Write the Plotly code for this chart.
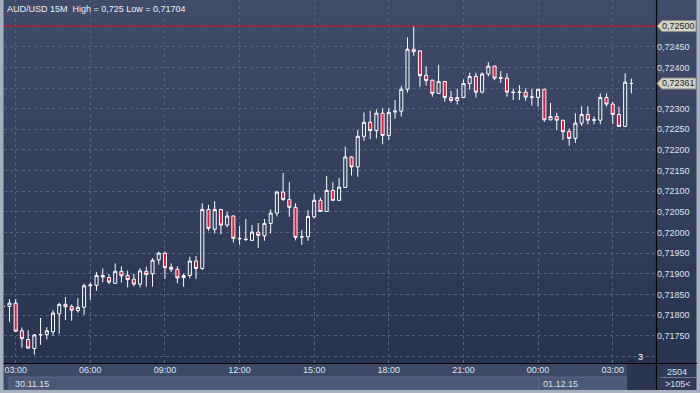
import plotly.graph_objects as go
import pandas as pd

# ---------------- data (AUD/USD, 15-minute bars) ----------------
start_time = "2015-11-30 02:30"
bar_freq = "15min"

open_ = [0.71821, 0.71821, 0.71829, 0.71762, 0.71741, 0.71719, 0.71752, 0.71753, 0.71760, 0.71803,
         0.71826, 0.71821, 0.71811, 0.71819, 0.71871, 0.71872, 0.71896, 0.71891, 0.71877, 0.71906,
         0.71896, 0.71887, 0.71875, 0.71906, 0.71900, 0.71934, 0.71950, 0.71916, 0.71911, 0.71891,
         0.71896, 0.71931, 0.71913, 0.72056, 0.72008, 0.72056, 0.72018, 0.72040, 0.71986, 0.71984,
         0.71981, 0.72001, 0.71992, 0.72022, 0.72047, 0.72098, 0.72080, 0.72061, 0.71989, 0.71990,
         0.72038, 0.72078, 0.72051, 0.72102, 0.72078, 0.72109, 0.72183, 0.72159, 0.72233, 0.72267,
         0.72247, 0.72289, 0.72235, 0.72292, 0.72294, 0.72347, 0.72444, 0.72440, 0.72381, 0.72369,
         0.72337, 0.72366, 0.72327, 0.72320, 0.72327, 0.72361, 0.72378, 0.72340, 0.72384, 0.72403,
         0.72375, 0.72374, 0.72340, 0.72339, 0.72340, 0.72328, 0.72327, 0.72347, 0.72273, 0.72281,
         0.72272, 0.72245, 0.72228, 0.72265, 0.72286, 0.72272, 0.72272, 0.72327, 0.72311, 0.72286,
         0.72257, 0.72361]
high = [0.71823, 0.71839, 0.71839, 0.71770, 0.71764, 0.71754, 0.71793, 0.71771, 0.71812, 0.71830,
        0.71844, 0.71826, 0.71841, 0.71876, 0.71879, 0.71904, 0.71913, 0.71899, 0.71925, 0.71918,
        0.71908, 0.71900, 0.71914, 0.71917, 0.71938, 0.71954, 0.71954, 0.71925, 0.71918, 0.71901,
        0.71941, 0.71943, 0.72071, 0.72067, 0.72076, 0.72057, 0.72050, 0.72042, 0.72016, 0.72033,
        0.72018, 0.72023, 0.72033, 0.72056, 0.72101, 0.72144, 0.72122, 0.72071, 0.72006, 0.72055,
        0.72093, 0.72084, 0.72137, 0.72122, 0.72132, 0.72208, 0.72185, 0.72248, 0.72291, 0.72295,
        0.72298, 0.72301, 0.72302, 0.72321, 0.72355, 0.72473, 0.72500, 0.72441, 0.72403, 0.72370,
        0.72406, 0.72367, 0.72343, 0.72348, 0.72371, 0.72387, 0.72387, 0.72388, 0.72413, 0.72404,
        0.72391, 0.72386, 0.72348, 0.72357, 0.72349, 0.72348, 0.72348, 0.72348, 0.72314, 0.72290,
        0.72273, 0.72252, 0.72289, 0.72306, 0.72306, 0.72281, 0.72337, 0.72337, 0.72317, 0.72305,
        0.72386, 0.72373]
low = [0.71819, 0.71784, 0.71760, 0.71721, 0.71719, 0.71704, 0.71728, 0.71741, 0.71750, 0.71755,
       0.71788, 0.71786, 0.71806, 0.71801, 0.71837, 0.71859, 0.71879, 0.71875, 0.71876, 0.71879,
       0.71867, 0.71870, 0.71867, 0.71869, 0.71869, 0.71922, 0.71888, 0.71904, 0.71877, 0.71869,
       0.71889, 0.71888, 0.71909, 0.72004, 0.71998, 0.71996, 0.72013, 0.71976, 0.71970, 0.71979,
       0.71981, 0.71963, 0.71980, 0.71998, 0.72039, 0.72076, 0.72038, 0.71981, 0.71970, 0.71980,
       0.72034, 0.72050, 0.72050, 0.72078, 0.72077, 0.72108, 0.72138, 0.72135, 0.72222, 0.72226,
       0.72228, 0.72214, 0.72224, 0.72276, 0.72281, 0.72339, 0.72428, 0.72353, 0.72356, 0.72329,
       0.72336, 0.72317, 0.72315, 0.72310, 0.72326, 0.72346, 0.72327, 0.72337, 0.72378, 0.72369,
       0.72362, 0.72329, 0.72321, 0.72321, 0.72319, 0.72307, 0.72305, 0.72268, 0.72272, 0.72248,
       0.72224, 0.72210, 0.72217, 0.72258, 0.72262, 0.72262, 0.72262, 0.72305, 0.72263, 0.72257,
       0.72256, 0.72337]
close = [0.71821, 0.71829, 0.71761, 0.71743, 0.71720, 0.71752, 0.71753, 0.71762, 0.71805, 0.71826,
         0.71820, 0.71812, 0.71819, 0.71871, 0.71873, 0.71896, 0.71892, 0.71880, 0.71906, 0.71895,
         0.71886, 0.71875, 0.71907, 0.71898, 0.71933, 0.71950, 0.71915, 0.71911, 0.71890, 0.71896,
         0.71931, 0.71913, 0.72056, 0.72010, 0.72056, 0.72018, 0.72040, 0.71986, 0.71985, 0.71983,
         0.72001, 0.71993, 0.72022, 0.72047, 0.72098, 0.72080, 0.72061, 0.71988, 0.71990, 0.72039,
         0.72078, 0.72051, 0.72102, 0.72078, 0.72110, 0.72183, 0.72159, 0.72233, 0.72267, 0.72247,
         0.72289, 0.72235, 0.72291, 0.72294, 0.72347, 0.72444, 0.72438, 0.72380, 0.72368, 0.72337,
         0.72366, 0.72327, 0.72320, 0.72327, 0.72361, 0.72378, 0.72340, 0.72384, 0.72403, 0.72374,
         0.72374, 0.72340, 0.72339, 0.72340, 0.72328, 0.72328, 0.72347, 0.72273, 0.72281, 0.72272,
         0.72244, 0.72228, 0.72265, 0.72286, 0.72272, 0.72273, 0.72327, 0.72311, 0.72286, 0.72257,
         0.72364, 0.72361]

times = pd.date_range(start_time, periods=len(close), freq=bar_freq)

title_text = "AUD/USD 15M  High = 0,725 Low = 0,71704"
high_level = 0.72500
last_price = 0.72361
price_ticks = [0.71700, 0.71750, 0.71800, 0.71850, 0.71900, 0.71950, 0.72000, 0.72050, 0.72100,
               0.72150, 0.72200, 0.72250, 0.72300, 0.72350, 0.72400, 0.72450, 0.72500]
# labels hidden where the chart covers them (bottom edge, price badges)
hidden_ticks = [0.71700, 0.72350, 0.72500]
price_tick_text = ["" if v in hidden_ticks else f"{v:.5f}".replace(".", ",") for v in price_ticks]
date_labels = ["30.11.15", "01.12.15"]
corner_labels = ["2504", ">105<"]
marker_count = "3"

# ---------------- layout geometry helpers ----------------
W, H = 700, 393
ML, MR, MT, MB = 4, 44, 0, 30
PW, PH = W - ML - MR, H - MT - MB


def xp(px):
    return (px - ML) / PW


def yp(py):
    return (H - MB - py) / PH


FONT = "Liberation Sans, Arial, sans-serif"
TXT = "#dde3ee"
GRID = "#56637f"

fig = go.Figure()
fig.add_trace(go.Candlestick(
    x=times, open=open_, high=high, low=low, close=close,
    increasing=dict(line=dict(color="#ffffff", width=1), fillcolor="rgba(0,0,0,0)"),
    decreasing=dict(line=dict(color="#ffffff", width=1), fillcolor="#e6163d"),
    whiskerwidth=0, hoverinfo="skip", showlegend=False,
))

shapes = []
# background gradient bands
top_c = (63, 75, 105)
bot_c = (41, 52, 80)
N = 22
for k in range(N):
    t = k / (N - 1)
    col = tuple(round(top_c[j] + (bot_c[j] - top_c[j]) * t) for j in range(3))
    y0 = 363 * k / N
    y1 = 363 * (k + 1) / N
    shapes.append(dict(type="rect", xref="paper", yref="paper", x0=xp(0), x1=xp(700),
                       y0=yp(y1 + 0.5), y1=yp(y0), fillcolor="rgb(%d,%d,%d)" % col,
                       line=dict(width=0), layer="below"))
# time row
shapes.append(dict(type="rect", xref="paper", yref="paper", x0=xp(0), x1=xp(700),
                   y0=yp(377), y1=yp(363), fillcolor="#3d4966", line=dict(width=0), layer="below"))
# date row segments
shapes.append(dict(type="rect", xref="paper", yref="paper", x0=xp(0), x1=xp(700),
                   y0=yp(391), y1=yp(377), fillcolor="#3d4966", line=dict(width=0), layer="below"))
shapes.append(dict(type="rect", xref="paper", yref="paper", x0=xp(9), x1=xp(538.5),
                   y0=yp(390), y1=yp(377), fillcolor="#4b5877", line=dict(color="#5f6b88", width=1),
                   layer="below"))
shapes.append(dict(type="rect", xref="paper", yref="paper", x0=xp(538.5), x1=xp(627),
                   y0=yp(390), y1=yp(377), fillcolor="#4b5877", line=dict(color="#5f6b88", width=1),
                   layer="below"))
# dark box at right of time axis
shapes.append(dict(type="rect", xref="paper", yref="paper", x0=xp(627), x1=xp(656),
                   y0=yp(390), y1=yp(363), fillcolor="#2b3551", line=dict(width=0), layer="below"))
# bottom-right corner box
shapes.append(dict(type="rect", xref="paper", yref="paper", x0=xp(656), x1=xp(700),
                   y0=yp(390), y1=yp(363), fillcolor="#2f3a57", line=dict(width=0), layer="below"))
shapes.append(dict(type="line", xref="paper", yref="paper", x0=xp(660), x1=xp(696),
                   y0=yp(377.5), y1=yp(377.5), line=dict(color="#6b7794", width=1), layer="below"))
# outer light border
for (a, b, c, d) in [(0, 3.5, 0, 393), (0, 700, 390, 393), (696.5, 700, 0, 393)]:
    shapes.append(dict(type="rect", xref="paper", yref="paper", x0=xp(a), x1=xp(b),
                       y0=yp(d), y1=yp(c), fillcolor="#a9b0bd", line=dict(width=0), layer="above"))
# black axis lines
shapes.append(dict(type="line", xref="paper", yref="paper", x0=xp(656.5), x1=xp(656.5),
                   y0=yp(390), y1=yp(0), line=dict(color="#000000", width=1.2), layer="above"))
shapes.append(dict(type="line", xref="paper", yref="paper", x0=xp(3.5), x1=xp(697),
                   y0=yp(363.5), y1=yp(363.5), line=dict(color="#000000", width=1.2), layer="above"))
# high level red line
shapes.append(dict(type="line", xref="paper", yref="y", x0=0, x1=1, y0=high_level, y1=high_level,
                   line=dict(color="#d8101c", width=1), layer="above"))
# price badges
for v in (high_level, last_price):
    shapes.append(dict(type="path", xref="paper", yref="y", xsizemode="pixel", ysizemode="pixel",
                       xanchor=1, yanchor=v,
                       path="M 1,0 L 6,-5.5 L 40,-5.5 L 40,5.5 L 6,5.5 Z",
                       fillcolor="#d2d3c6", line=dict(color="#8e8f86", width=1), layer="above"))
# small triangle marker near bottom right
shapes.append(dict(type="path", xref="paper", yref="paper",
                   path="M %f,%f L %f,%f L %f,%f Z" % (xp(627), yp(362), xp(631.5), yp(357.5),
                                                       xp(636), yp(362)),
                   fillcolor="#222a42", line=dict(width=0), layer="above"))

annotations = [
    dict(text=title_text, xref="paper", yref="paper", x=xp(5), y=yp(2), xanchor="left",
         yanchor="top", showarrow=False, font=dict(family=FONT, size=9, color="#eef1f6")),
    dict(text=date_labels[0], xref="paper", yref="paper", x=xp(13), y=yp(383.5), xanchor="left",
         yanchor="middle", showarrow=False, font=dict(family=FONT, size=9, color=TXT)),
    dict(text=date_labels[1], xref="paper", yref="paper", x=xp(541), y=yp(383.5), xanchor="left",
         yanchor="middle", showarrow=False, font=dict(family=FONT, size=9, color=TXT)),
    dict(text=corner_labels[0], xref="paper", yref="paper", x=xp(677), y=yp(371.5), xanchor="center",
         yanchor="middle", showarrow=False, font=dict(family=FONT, size=9, color=TXT)),
    dict(text=corner_labels[1], xref="paper", yref="paper", x=xp(677.5), y=yp(383.5), xanchor="center",
         yanchor="middle", showarrow=False, font=dict(family=FONT, size=9, color=TXT)),
    dict(text=marker_count, xref="paper", yref="paper", x=xp(640), y=yp(357), xanchor="center",
         yanchor="middle", showarrow=False, font=dict(family=FONT, size=9, color="#ffffff")),
]
for v in (high_level, last_price):
    annotations.append(dict(text=f"{v:.5f}".replace(".", ","), xref="paper", yref="y", x=1, y=v,
                            xanchor="left", yanchor="middle", xshift=4, showarrow=False,
                            font=dict(family=FONT, size=9, color="#1e1e1e")))

fig.update_layout(
    width=W, height=H,
    margin=dict(l=ML, r=MR, t=MT, b=MB, pad=0),
    paper_bgcolor="#2f3a57",
    plot_bgcolor="rgba(0,0,0,0)",
    shapes=shapes,
    annotations=annotations,
    showlegend=False,
    hovermode=False,
    font=dict(family=FONT, size=9, color=TXT),
    xaxis=dict(
        type="date",
        range=["2015-11-30 02:31:47", "2015-12-01 04:44:24"],
        tick0="2015-11-30 00:00", dtick=3 * 3600 * 1000, tickformat="%H:%M",
        showgrid=True, gridcolor=GRID, griddash="3px,3px", gridwidth=1,
        zeroline=False, showline=False, ticks="", ticklen=0,
        tickfont=dict(family=FONT, size=9, color=TXT),
        rangeslider=dict(visible=False), fixedrange=True,
    ),
    yaxis=dict(
        side="right",
        range=[0.71684, 0.725632],
        tickmode="array", tickvals=price_ticks, ticktext=price_tick_text,
        showgrid=True, gridcolor=GRID, griddash="3px,3px", gridwidth=1,
        zeroline=False, showline=False, ticks="", ticklen=0,
        tickfont=dict(family=FONT, size=9, color=TXT), fixedrange=True,
    ),
)

fig.write_html(
    "out.html",
    config={"displayModeBar": False, "staticPlot": True},
    post_script="document.body.style.margin='0px';document.body.style.overflow='hidden';",
)
